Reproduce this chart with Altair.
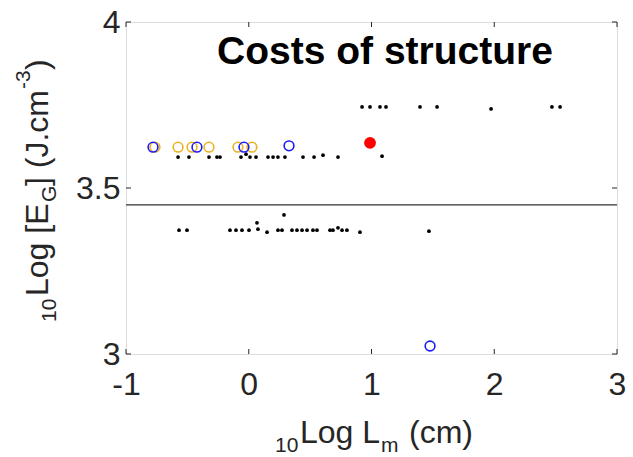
import altair as alt
import pandas as pd

# ---- data ----
black_x = [0.923, 0.988, 1.069, 1.118, 1.395, 1.534, 1.974, 2.470, 2.536,
           -0.576, -0.487, -0.324, -0.259, -0.234, -0.063, -0.022, 0.010, 0.059,
           0.157, 0.198, 0.238, 0.295, 0.442, 0.532, 0.605, 0.727, 1.086,
           -0.568, -0.503, -0.153, -0.104, -0.055, 0.002, 0.067, 0.075, 0.149,
           0.238, 0.271, 0.287, 0.352, 0.393, 0.434, 0.475, 0.523, 0.556,
           0.662, 0.686, 0.727, 0.760, 0.800, 0.906, 1.468]
black_y = [3.744, 3.744, 3.744, 3.744, 3.744, 3.744, 3.738, 3.744, 3.744,
           3.593, 3.593, 3.593, 3.593, 3.593, 3.593, 3.602, 3.593, 3.593,
           3.593, 3.593, 3.593, 3.593, 3.593, 3.593, 3.599, 3.593, 3.596,
           3.373, 3.373, 3.373, 3.373, 3.373, 3.373, 3.395, 3.376, 3.367,
           3.373, 3.373, 3.419, 3.373, 3.373, 3.373, 3.373, 3.373, 3.373,
           3.373, 3.373, 3.380, 3.373, 3.373, 3.367, 3.370]

blue_x = [-0.780, -0.422, -0.039, 0.328, 1.477]
blue_y = [3.623, 3.623, 3.623, 3.627, 3.024]

orange_x = [-0.764, -0.576, -0.462, -0.324, -0.088, 0.026]
orange_y = [3.623, 3.623, 3.623, 3.623, 3.623, 3.623]

red_x = [0.988]
red_y = [3.636]

threshold = [3.449]

x_ticks = [-1, 0, 1, 2, 3]
y_ticks = [3, 3.5, 4]

W, H = 491, 332
TXT = "#262626"

xs = alt.Scale(domain=[-1, 3], nice=False, zero=False)
ys = alt.Scale(domain=[3, 4], nice=False, zero=False)

xaxis = alt.Axis(values=x_ticks, labelExpr="datum.value", ticks=False, domain=False,
                 grid=False, title=None, labelFontSize=32, labelColor=TXT,
                 labelFont="Liberation Sans", labelPadding=15,
                 labelFlush=False, labelOverlap=False)
yaxis = alt.Axis(values=y_ticks, labelExpr="datum.value", ticks=False, domain=False,
                 grid=False, title=None, labelFontSize=32, labelColor=TXT,
                 labelFont="Liberation Sans", labelPadding=6,
                 labelFlush=False, labelOverlap=False)

df_black = pd.DataFrame({"x": black_x, "y": black_y})
df_blue = pd.DataFrame({"x": blue_x, "y": blue_y})
df_orange = pd.DataFrame({"x": orange_x, "y": orange_y})
df_red = pd.DataFrame({"x": red_x, "y": red_y})
df_thr = pd.DataFrame({"y": threshold})
df_xt = pd.DataFrame({"v": x_ticks})
df_yt = pd.DataFrame({"v": y_ticks})

black = alt.Chart(df_black).mark_circle(size=14, color="black", opacity=1).encode(
    x=alt.X("x:Q", scale=xs, axis=xaxis), y=alt.Y("y:Q", scale=ys, axis=yaxis))
orange = alt.Chart(df_orange).mark_point(shape="circle", filled=False, size=95,
                                         strokeWidth=1.6, color="#EDB120", opacity=1).encode(
    x=alt.X("x:Q", scale=xs), y=alt.Y("y:Q", scale=ys))
blue = alt.Chart(df_blue).mark_point(shape="circle", filled=False, size=95,
                                     strokeWidth=1.6, color="#1a1aff", opacity=1).encode(
    x=alt.X("x:Q", scale=xs), y=alt.Y("y:Q", scale=ys))
red = alt.Chart(df_red).mark_circle(size=140, color="#ff0000", opacity=1).encode(
    x=alt.X("x:Q", scale=xs), y=alt.Y("y:Q", scale=ys))
thr = alt.Chart(df_thr).mark_rule(color="#333333", strokeWidth=1.3).encode(
    y=alt.Y("y:Q", scale=ys))

tick_style = dict(color=TXT, strokeWidth=1)
xt_bottom = alt.Chart(df_xt).mark_rule(**tick_style).encode(
    x=alt.X("v:Q", scale=xs), y=alt.value(H), y2=alt.value(H - 5))
xt_top = alt.Chart(df_xt).mark_rule(**tick_style).encode(
    x=alt.X("v:Q", scale=xs), y=alt.value(0), y2=alt.value(5))
yt_left = alt.Chart(df_yt).mark_rule(**tick_style).encode(
    y=alt.Y("v:Q", scale=ys), x=alt.value(0), x2=alt.value(5))
yt_right = alt.Chart(df_yt).mark_rule(**tick_style).encode(
    y=alt.Y("v:Q", scale=ys), x=alt.value(W), x2=alt.value(W - 5))

# title inside the plot
title_df = pd.DataFrame({"t": ["Costs of structure"]})
title = alt.Chart(title_df).mark_text(font="Liberation Sans", fontWeight="bold",
                                      fontSize=39, color="black", align="center",
                                      baseline="middle").encode(
    text="t:N", x=alt.value(259), y=alt.value(30))

# axis titles with sub/superscripts, built from pieces
BIG, SMALL = 32, 21
def piece(text, x, y, size, angle=0):
    d = pd.DataFrame({"t": [text]})
    kw = dict(font="Liberation Sans", fontSize=size, color=TXT, align="left",
              baseline="alphabetic")
    if angle:
        kw["angle"] = angle
    return alt.Chart(d).mark_text(**kw).encode(text="t:N", x=alt.value(x), y=alt.value(y))

xtitle = [
    piece("10", 149, 430, SMALL),
    piece("Log L", 174, 421, BIG),
    piece("m", 255, 430, SMALL),
    piece("(cm)", 283, 421, BIG),
]
ytitle = [
    piece("10", -70, 300, SMALL, 270),
    piece("Log [E", -78, 274, BIG, 270),
    piece("G", -70, 180, SMALL, 270),
    piece("] (J.cm", -78, 164, BIG, 270),
    piece("-3", -96, 67, SMALL, 270),
    piece(")", -78, 48, BIG, 270),
]

chart = alt.layer(black, thr, orange, blue, red, xt_bottom, xt_top, yt_left, yt_right,
                  title, *xtitle, *ytitle).properties(
    width=W, height=H, autosize="none",
    padding={"left": 126, "top": 22, "right": 16, "bottom": 103},
).configure_view(stroke=TXT, strokeWidth=1.2).configure(background="white")

chart.save("out.html", embed_options={"renderer": "svg", "actions": False})
